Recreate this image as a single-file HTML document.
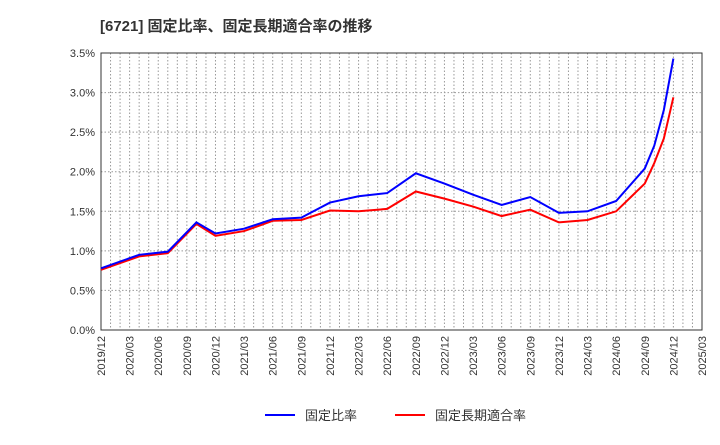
<!DOCTYPE html>
<html><head><meta charset="utf-8"><style>
body{margin:0;background:#fff;font-family:"Liberation Sans","Noto Sans CJK JP",sans-serif;}
</style></head><body>
<svg id="c" width="720" height="440" xmlns="http://www.w3.org/2000/svg" style="font-family:'Liberation Sans','Noto Sans CJK JP',sans-serif">
<text x="100" y="31" font-size="15" font-weight="bold" fill="#333">[6721]  固定比率、固定長期適合率の推移</text>
<g id="grid"></g><g id="axes"></g><g id="series"></g>
<g>
<line x1="265" y1="415" x2="295" y2="415" stroke="#0000ff" stroke-width="2"/>
<text x="305" y="420" font-size="13" fill="#333">固定比率</text>
<line x1="395" y1="415" x2="425" y2="415" stroke="#ff0000" stroke-width="2"/>
<text x="435" y="420" font-size="13" fill="#333">固定長期適合率</text>
</g>
</svg>
<script>
const months=[0,4,7,10,12,15,18,21,24,27,30,33,36,39,42,45,48,51,54,57,58,59,60];
const fixedRatio=[0.78,0.95,0.99,1.36,1.22,1.28,1.40,1.42,1.61,1.69,1.73,1.98,1.85,1.71,1.58,1.68,1.48,1.50,1.63,2.04,2.33,2.78,3.43];
const fixedLongTerm=[0.76,0.93,0.97,1.34,1.19,1.25,1.38,1.39,1.51,1.50,1.53,1.75,1.66,1.56,1.44,1.52,1.36,1.39,1.50,1.85,2.11,2.42,2.94];
const xLabels=["2019/12","2020/03","2020/06","2020/09","2020/12","2021/03","2021/06","2021/09","2021/12","2022/03","2022/06","2022/09","2022/12","2023/03","2023/06","2023/09","2023/12","2024/03","2024/06","2024/09","2024/12","2025/03"];
const yTicks=[0,0.5,1,1.5,2,2.5,3,3.5];
const L=101,R=702,T=53,B=330,MAXM=63,MAXY=3.5;
const X=m=>L+(R-L)*m/MAXM, Y=v=>B-(B-T)*v/MAXY;
const NS="http://www.w3.org/2000/svg";
function mk(t,a,p){const e=document.createElementNS(NS,t);for(const k in a)e.setAttribute(k,a[k]);p.appendChild(e);return e;}
const g=document.getElementById('grid'),ax=document.getElementById('axes'),s=document.getElementById('series');
for(let m=1;m<MAXM;m++){const l=mk('line',{x1:X(m),x2:X(m),y1:T,y2:B,stroke:'#999','stroke-dasharray':'1.5,2','stroke-width':1},g);

}
yTicks.forEach(v=>{const l=mk('line',{x1:L,x2:R,y1:Y(v),y2:Y(v),stroke:'#999','stroke-dasharray':'1.5,2','stroke-width':1},g);


const t=mk('text',{x:L-6,y:Y(v)+4,'text-anchor':'end','font-size':11,fill:'#333'},ax);t.textContent=v.toFixed(1)+'%';

});
xLabels.forEach((lab,i)=>{const x=X(i*3);const t=mk('text',{x:x+4,y:B+6,'text-anchor':'end','font-size':11,fill:'#333',transform:`rotate(-90 ${x+4} ${B+6})`},ax);t.textContent=lab;

});
const f=mk('rect',{x:L,y:T,width:R-L,height:B-T,fill:'none',stroke:'#333','stroke-width':1},ax);


function line(vals,col,name){const p=mk('polyline',{points:months.map((m,i)=>X(m)+','+Y(vals[i])).join(' '),fill:'none',stroke:col,'stroke-width':2},s);

}
line(fixedLongTerm,'#ff0000','fixed-long-term-line');
line(fixedRatio,'#0000ff','fixed-ratio-line');
</script>
</body></html>
